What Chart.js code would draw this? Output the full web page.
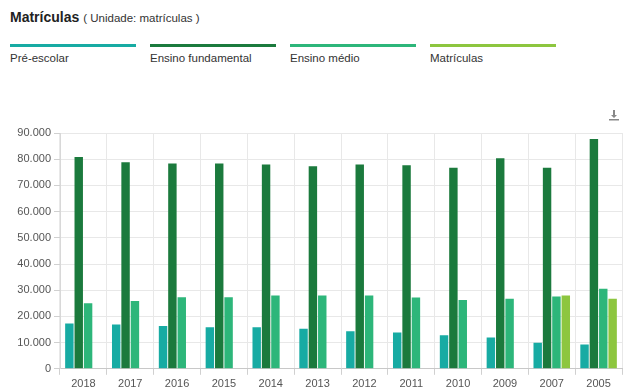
<!DOCTYPE html>
<html lang="pt-BR">
<head>
<meta charset="utf-8">
<title>Matrículas</title>
<script src="https://cdn.jsdelivr.net/npm/chart.js@4/dist/chart.umd.min.js"></script>
<style>
    html, body { margin: 0; padding: 0; background: #fff; overflow: hidden; }
    body { width: 629px; height: 389px; position: relative; font-family: "Liberation Sans", Arial, sans-serif; }
    .title { position: absolute; left: 10px; top: 8px; color: #222; white-space: nowrap; }
    .title b { font-size: 14px; }
    .title span { font-size: 11.5px; color: #333; margin-left: 4px; }
    .legend { position: absolute; left: 10px; top: 44px; display: flex; }
    .legend .item { width: 126px; margin-right: 14px; }
    .legend .bar { height: 3px; }
    .legend .text { font-size: 11.5px; color: #333; margin-top: 5px; white-space: nowrap; }
    .tools { position: absolute; left: 608px; top: 107px; }
    .chart-box { position: absolute; left: 0; top: 100px; width: 629px; height: 294px; }
</style>
</head>
<body>
<div class="title"><b>Matrículas</b><span>( Unidade: matrículas )</span></div>
<div class="legend" id="legend"></div>
<div class="tools">
    <svg width="12" height="12" viewBox="0 0 12 12">
        <path d="M5 1h2v5h2l-3 3-3-3h2z M1 10h10v1.5H1z" fill="#888"/>
    </svg>
</div>
<div class="chart-box"><canvas id="matriculasChart"></canvas></div>

<script>
// ----------------------------------------------------
// Data
// ----------------------------------------------------
const years = ['2018', '2017', '2016', '2015', '2014', '2013', '2012', '2011', '2010', '2009', '2007', '2005'];
const seriesNames = ['Pré-escolar', 'Ensino fundamental', 'Ensino médio', 'Matrículas'];
const seriesColors = ['#17ABA3', '#1B7A3D', '#2DB67A', '#8DC63F'];

const preEscolar = [17300, 16900, 16300, 15900, 15900, 15300, 14300, 13900, 12800, 11900, 9900, 9300];
const ensinoFundamental = [80800, 78800, 78400, 78400, 78000, 77300, 78000, 77700, 76700, 80400, 76700, 87700];
const ensinoMedio = [25000, 25900, 27300, 27300, 28000, 28000, 28000, 27200, 26300, 26700, 27600, 30600];
const matriculasTotal = [null, null, null, null, null, null, null, null, null, null, 28000, 26700];

const yTicks = [0, 10000, 20000, 30000, 40000, 50000, 60000, 70000, 80000, 90000];

// ----------------------------------------------------
// Legend (line over label)
// ----------------------------------------------------
const legendEl = document.getElementById('legend');
seriesNames.forEach((name, i) => {
    const item = document.createElement('div');
    item.className = 'item';
    item.innerHTML = '<div class="bar" style="background:' + seriesColors[i] + '"></div><div class="text">' + name + '</div>';
    legendEl.appendChild(item);
});

// ----------------------------------------------------
// Bar chart
// ----------------------------------------------------
const formatThousands = v => String(v).replace(/\B(?=(\d{3})+(?!\d))/g, '.');
const seriesValues = [preEscolar, ensinoFundamental, ensinoMedio, matriculasTotal];

new Chart(document.getElementById('matriculasChart'), {
    type: 'bar',
    data: {
        labels: years,
        datasets: seriesValues.map((values, i) => ({
            label: seriesNames[i],
            data: values,
            backgroundColor: seriesColors[i],
            borderWidth: 0
        }))
    },
    options: {
        responsive: true,
        maintainAspectRatio: false,
        animation: false,
        layout: { padding: { top: 33, right: 7, left: 0, bottom: 0 } },
        plugins: {
            legend: { display: false },
            tooltip: { enabled: false }
        },
        scales: {
            x: {
                grid: { color: '#e8e8e8', tickColor: '#d0d0d0', tickLength: 6 },
                border: { color: '#c8c8c8' },
                ticks: { color: '#555', font: { family: 'Liberation Sans', size: 11 }, padding: 3, maxRotation: 0 }
            },
            y: {
                min: 0,
                max: 90000,
                afterBuildTicks: axis => { axis.ticks = yTicks.map(v => ({ value: v })); },
                afterFit: axis => { axis.width = 60; },
                grid: { color: '#e8e8e8', tickColor: '#d0d0d0', tickLength: 6 },
                border: { color: '#d8d8d8' },
                ticks: {
                    color: '#555',
                    font: { family: 'Liberation Sans', size: 11 },
                    padding: 3,
                    callback: v => formatThousands(v)
                }
            }
        }
    }
});
</script>
</body>
</html>
